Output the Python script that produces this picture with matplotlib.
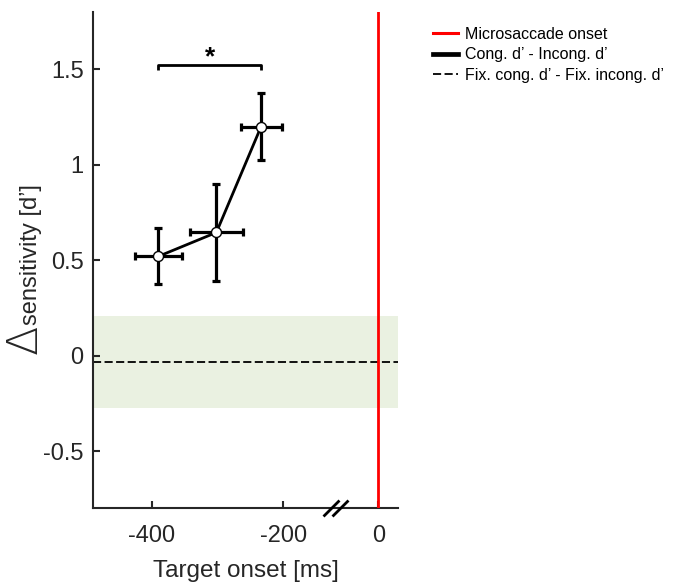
import numpy as np
import matplotlib
matplotlib.use("Agg")
import matplotlib.pyplot as plt
from matplotlib.path import Path
import matplotlib.transforms as mtransforms
from matplotlib.ticker import FuncFormatter
from matplotlib.lines import Line2D

plt.rcParams['font.family'] = ['Liberation Sans', 'DejaVu Sans']
plt.rcParams['axes.unicode_minus'] = False

# ---- data ----
target_onset = [-390, -302, -234]          # ms
delta_sens = [0.52, 0.645, 1.20]            # d'
x_err = [36, 40, 31]
y_err = [0.146, 0.255, 0.175]
fix_mean = -0.033
fix_band = [-0.274, 0.21]
sig_pair = [-390, -234]
sig_level = 1.523
xticks = [-400, -200, 0]
yticks = [-0.5, 0, 0.5, 1, 1.5]
break_x = -119
break_k = 0.531

TXT = '#262626'

def fwd(x):
    x = np.asarray(x, dtype=float)
    return np.where(x <= break_x, x, break_x + (x - break_x) * break_k)

def inv(y):
    y = np.asarray(y, dtype=float)
    return np.where(y <= break_x, y, break_x + (y - break_x) / break_k)

fig = plt.figure(figsize=(6.75, 5.83), dpi=100)
ax = fig.add_axes([0.1382, 0.1281, 0.4519, 0.8513])
ax.set_xscale('function', functions=(fwd, inv))
ax.set_xlim(-489, 57)
ax.set_ylim(-0.8, 1.8)

# shaded band + dashed fixation line
ax.axhspan(fix_band[0], fix_band[1], color='#eaf1e1', lw=0, zorder=0)
ax.axhline(fix_mean, color='black', lw=1.3, dashes=(4.5, 1.9), zorder=1)

# microsaccade onset
ax.axvline(0, color='#ff0000', lw=2.0, zorder=3)

# main data
ax.errorbar(target_onset, delta_sens, xerr=x_err, yerr=y_err, fmt='none',
            ecolor='black', elinewidth=2.3, capsize=2.9, capthick=2.3, zorder=4)
ax.plot(target_onset, delta_sens, color='black', lw=2.0, zorder=5)
ax.plot(target_onset, delta_sens, 'o', ms=7.2, mfc='white', mec='black', mew=1.0, zorder=6)

# significance bracket
ax.plot([sig_pair[0], sig_pair[0], sig_pair[1], sig_pair[1]],
        [sig_level - 0.026, sig_level, sig_level, sig_level - 0.026],
        color='black', lw=2.0, solid_capstyle='butt', zorder=5)
ax.text((sig_pair[0] + sig_pair[1]) / 2, sig_level - 0.022, '*', ha='center', va='bottom',
        fontsize=19, fontweight='bold', color='black')

# axis break marks
slash = Path([(-1, -1), (1, 1)], [Path.MOVETO, Path.LINETO])
ax.plot([break_x - 9.3, break_x + 9.3], [-0.8, -0.8], ls='none', marker=slash,
        ms=11.5, mew=2.0, mec='black', clip_on=False, zorder=7)

# spines / ticks
for s in ['top', 'right']:
    ax.spines[s].set_visible(False)
for s in ['left', 'bottom']:
    ax.spines[s].set_linewidth(1.5)
    ax.spines[s].set_color(TXT)
ax.set_xticks(xticks)
ax.set_yticks(yticks)
ax.xaxis.set_major_formatter(FuncFormatter(lambda v, p: '%g' % v))
ax.yaxis.set_major_formatter(FuncFormatter(lambda v, p: '%g' % v))
ax.minorticks_off()
ax.tick_params(axis='both', direction='in', length=5, width=1.5, color=TXT,
               labelsize=17, labelcolor=TXT)
ax.tick_params(axis='y', pad=7)
ax.tick_params(axis='x', pad=12)

ax.set_xlabel('Target onset [ms]', fontsize=17.5, color=TXT, labelpad=9.5)

# y label: large Delta + text
ytr = mtransforms.blended_transform_factory(ax.transAxes, ax.transData)
ax.text(-0.1856, 0.16, 'sensitivity [d’]', transform=ytr, rotation=90,
        rotation_mode='anchor', ha='left', va='baseline', fontsize=17, color=TXT)
ax.text(-0.1856, 0.16, 'Δ', transform=ytr, rotation=90,
        rotation_mode='anchor', ha='right', va='baseline', fontsize=31, color=TXT,
        family=['DejaVu Sans'], fontweight='light')

# legend
handles = [Line2D([], [], color='#ff0000', lw=2.2),
           Line2D([], [], color='black', lw=3.4),
           Line2D([], [], color='black', lw=1.3, dashes=(4.5, 1.9))]
labels = ['Microsaccade onset', 'Cong. d’ - Incong. d’', 'Fix. cong. d’ - Fix. incong. d’']
fig.legend(handles, labels, loc='upper left', bbox_to_anchor=(433 / 675, 1 - 27 / 583),
           frameon=False, fontsize=11.5, handlelength=1.57, handletextpad=0.44,
           labelspacing=0.34, borderpad=0, borderaxespad=0, labelcolor='black')

fig.savefig('out.png', dpi=100)
